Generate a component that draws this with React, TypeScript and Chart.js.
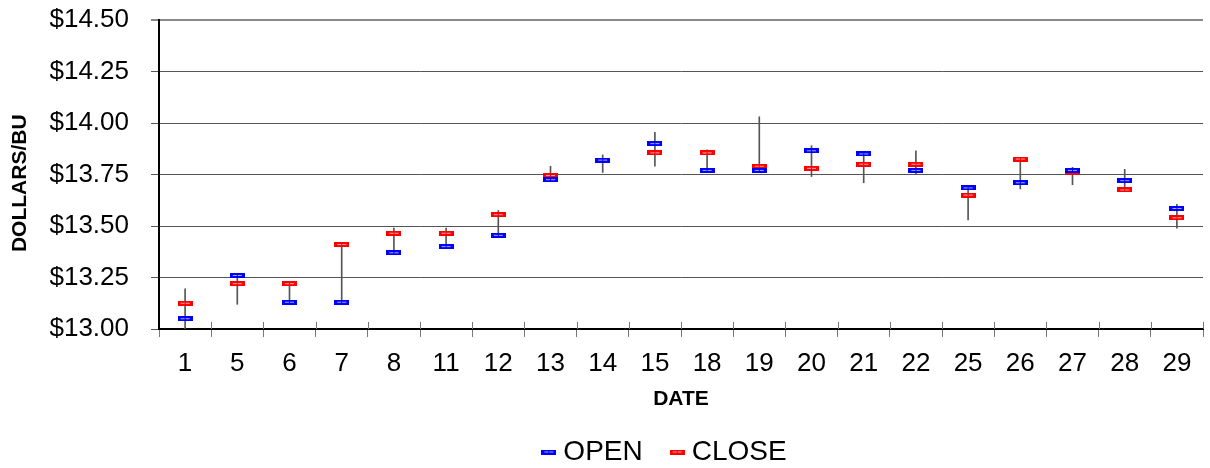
import React, { useEffect, useRef } from 'react';
import { Chart, registerables } from 'chart.js';

Chart.register(...registerables);

// ---- data ----
const DATES = ['1', '5', '6', '7', '8', '11', '12', '13', '14', '15', '18', '19', '20', '21', '22', '25', '26', '27', '28', '29'];
const OPEN = [13.05, 13.26, 13.13, 13.13, 13.37, 13.40, 13.455, 13.725, 13.82, 13.90, 13.77, 13.77, 13.865, 13.85, 13.77, 13.685, 13.71, 13.77, 13.72, 13.585];
const CLOSE = [13.125, 13.22, 13.22, 13.41, 13.465, 13.465, 13.555, 13.745, 13.82, 13.855, 13.855, 13.79, 13.78, 13.80, 13.80, 13.65, 13.825, 13.76, 13.675, 13.54];
const HIGH = [13.195, 13.26, 13.22, 13.41, 13.49, 13.49, 13.575, 13.79, 13.845, 13.955, 13.87, 14.03, 13.89, 13.85, 13.865, 13.685, 13.825, 13.785, 13.775, 13.605];
const LOW = [13.0, 13.12, 13.13, 13.13, 13.37, 13.40, 13.455, 13.725, 13.76, 13.79, 13.77, 13.77, 13.74, 13.71, 13.75, 13.53, 13.68, 13.70, 13.675, 13.49];
const Y_MIN = 13.0;
const Y_MAX = 14.5;
const Y_STEP = 0.25;
const SERIES_NAMES = ['OPEN', 'CLOSE'];
const X_TITLE = 'DATE';
const Y_TITLE = 'DOLLARS/BU';

const FONT = 'Liberation Sans, Arial, Helvetica, sans-serif';

function makeMarker(fill: string, inner: string): HTMLCanvasElement {
  const c = document.createElement('canvas');
  c.width = 15;
  c.height = 5;
  const g = c.getContext('2d')!;
  g.fillStyle = fill;
  g.fillRect(0, 0, 15, 5);
  g.fillStyle = inner;
  g.fillRect(3, 2, 4, 1);
  g.fillRect(8, 2, 4, 1);
  return c;
}

// small tick marks crossing the category axis, upward part
const crossTicks = {
  id: 'crossTicks',
  afterDraw(chart: any) {
    const xs = chart.scales.x;
    const ctx = chart.ctx;
    const n = chart.data.labels.length;
    const half = (xs.getPixelForValue(1) - xs.getPixelForValue(0)) / 2;
    const bottom = chart.chartArea.bottom;
    ctx.save();
    ctx.strokeStyle = '#777';
    ctx.lineWidth = 1;
    ctx.beginPath();
    for (let i = 0; i < n; i++) {
      const x = Math.round(xs.getPixelForValue(i) + half) + 0.5;
      ctx.moveTo(x, bottom - 7);
      ctx.lineTo(x, bottom);
    }
    ctx.stroke();
    ctx.restore();
  },
};

// move the legend box a little (horizontal centring on a narrower band, slight drop)
const legendShift = {
  id: 'legendShift',
  afterLayout(chart: any) {
    const lg = chart.legend;
    if (!lg) return;
    lg.left += 125;
    lg.top += 8;
    lg.bottom += 8;
  },
};

export default function App() {
  const ref = useRef<HTMLCanvasElement | null>(null);

  useEffect(() => {
    if (!ref.current) return;
    const openImg = makeMarker('#0000ff', '#a8a8ff');
    const closeImg = makeMarker('#ff0000', '#ffa8a8');

    const chart = new Chart(ref.current, {
      type: 'bar',
      data: {
        labels: DATES,
        datasets: [
          {
            type: 'line',
            label: SERIES_NAMES[0],
            data: OPEN,
            showLine: false,
            pointStyle: openImg,
            pointRadius: 6,
            borderColor: '#0000ff',
            backgroundColor: '#0000ff',
            order: 1,
          } as any,
          {
            type: 'line',
            label: SERIES_NAMES[1],
            data: CLOSE,
            showLine: false,
            pointStyle: closeImg,
            pointRadius: 6,
            borderColor: '#ff0000',
            backgroundColor: '#ff0000',
            order: 2,
          } as any,
          {
            type: 'bar',
            label: 'High-Low',
            data: HIGH.map((h, i) => [LOW[i], h]),
            backgroundColor: '#555555',
            barThickness: 1,
            order: 3,
          } as any,
        ],
      },
      options: {
        animation: false,
        responsive: false,
        devicePixelRatio: 1,
        layout: { padding: { left: 0, top: 20, right: 0, bottom: 0 } },
        plugins: {
          tooltip: { enabled: false },
          legend: {
            position: 'bottom',
            align: 'center',
            labels: {
              usePointStyle: true,
              pointStyleWidth: 1,
              padding: 34,
              color: '#000',
              font: { family: FONT, size: 28 },
              filter: (item: any) => item.datasetIndex !== 2,
            },
          },
        },
        scales: {
          x: {
            type: 'category',
            offset: true,
            grid: {
              offset: true,
              drawOnChartArea: false,
              drawTicks: true,
              tickLength: 8,
              color: '#777',
            },
            border: { color: '#000', width: 2 },
            ticks: {
              color: '#000',
              font: { family: FONT, size: 26 },
              padding: 11,
              maxRotation: 0,
              autoSkip: false,
            },
            title: {
              display: true,
              text: X_TITLE,
              color: '#000',
              font: { family: FONT, size: 21, weight: 'bold' },
              padding: { top: 0, bottom: -16 },
            },
            afterFit: (s: any) => {
              s.height = 67;
            },
          },
          y: {
            min: Y_MIN,
            max: Y_MAX,
            ticks: {
              stepSize: Y_STEP,
              color: '#000',
              font: { family: FONT, size: 26 },
              padding: 22,
              callback: (v: any) => '$' + Number(v).toFixed(2),
            },
            grid: {
              color: (c: any) => (c.tick && c.tick.value === Y_MAX ? '#888' : '#555'),
              lineWidth: (c: any) => (c.tick && c.tick.value === Y_MAX ? 2 : 1),
              tickLength: 8,
            },
            border: { color: '#000', width: 2 },
            title: {
              display: true,
              text: Y_TITLE + '   ',
              color: '#000',
              font: { family: FONT, size: 21, weight: 'bold' },
              padding: { top: 8, bottom: 0 },
            },
            afterFit: (s: any) => {
              s.width = 159;
              s.paddingTop = 0;
              s.paddingBottom = 0;
            },
          },
        },
      } as any,
      plugins: [crossTicks, legendShift],
    });
    return () => chart.destroy();
  }, []);

  return (
    <div style={{ position: 'absolute', left: 0, top: 0, width: 1210, height: 468, background: '#fff' }}>
      <canvas ref={ref} width={1210} height={468} />
    </div>
  );
}
